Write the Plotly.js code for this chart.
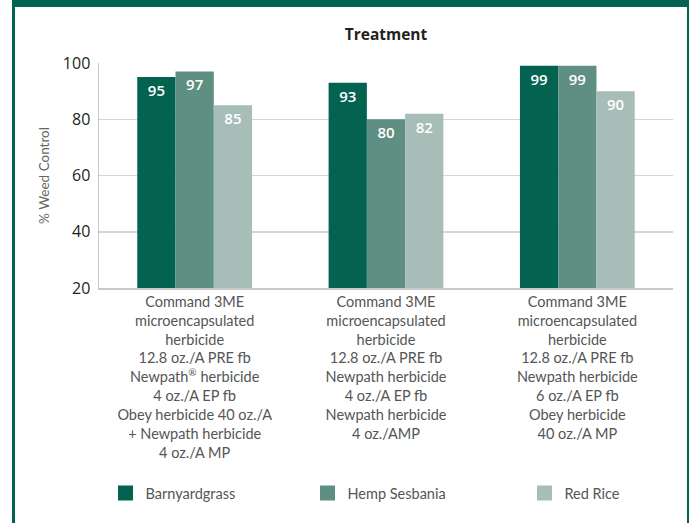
<!DOCTYPE html>
<html>
<head>
<meta charset="utf-8">
<script src="https://cdn.plot.ly/plotly-3.0.1.min.js"></script>
<style>
  html, body { margin: 0; padding: 0; background: #fff; }
  #wrap { position: relative; width: 689px; height: 523px; overflow: hidden; }
  #chart { position: absolute; left: 0; top: 0; width: 689px; height: 523px; }
  #frame { position: absolute; left: 12px; top: 0; width: 672px; height: 530px;
           border-top: 7px solid #046350; border-left: 3px solid #046350; border-right: 2px solid #046350;
           pointer-events: none; }
</style>
</head>
<body>
<div id="wrap">
  <div id="chart"></div>
  <div id="frame"></div>
</div>
<script>
const categories = [
  "Command 3ME<br>microencapsulated<br>herbicide<br>12.8 oz./A PRE fb<br>Newpath<sup>®</sup> herbicide<br>4 oz./A EP fb<br>Obey herbicide 40 oz./A<br>+ Newpath herbicide<br>4 oz./A MP",
  "Command 3ME<br>microencapsulated<br>herbicide<br>12.8 oz./A PRE fb<br>Newpath herbicide<br>4 oz./A EP fb<br>Newpath herbicide<br>4 oz./AMP",
  "Command 3ME<br>microencapsulated<br>herbicide<br>12.8 oz./A PRE fb<br>Newpath herbicide<br>6 oz./A EP fb<br>Obey herbicide<br>40 oz./A MP"
];
const seriesNames = ["Barnyardgrass", "Hemp Sesbania", "Red Rice"];
const barnyardgrass = [95, 93, 99];
const hempSesbania = [97, 80, 99];
const redRice = [85, 82, 90];
const yTicks = [20, 40, 60, 80, 100];

const colors = ["#046350", "#5f8f82", "#a7bdb7"];
const seriesValues = [barnyardgrass, hempSesbania, redRice];
const legendIds = ["legend", "legend2", "legend3"];
const legendPx = [105.5, 307.5, 524.5];

const W = 689, H = 523;
const plotL = 99, plotR = 673, plotT = 63, plotB = 288;
const lightFont = "Lato, sans-serif";

const barTraces = seriesValues.map((vals, i) => ({
  type: "bar",
  name: seriesNames[i],
  x: categories,
  y: vals,
  base: 0,
  marker: { color: colors[i], line: { width: 0 } },
  text: vals.map(String),
  textposition: "inside",
  insidetextanchor: "end",
  textangle: 0,
  textfont: { family: "Open Sans, sans-serif", size: 15, color: "#ffffff", weight: 600 },
  hoverinfo: "none",
  showlegend: false
}));

const legendTraces = seriesNames.map((name, i) => ({
  type: "scatter",
  mode: "markers",
  name: name,
  x: [null], y: [null],
  marker: { symbol: "square", size: 15, color: colors[i], line: { width: 0 } },
  legend: legendIds[i],
  showlegend: true,
  hoverinfo: "none"
}));

function legendSpec(px) {
  return {
    orientation: "h",
    xref: "container", yref: "container",
    x: px / W, xanchor: "left",
    y: 1 - 493 / H, yanchor: "middle",
    font: { family: lightFont, size: 14.5, color: "#555555" },
    bgcolor: "rgba(0,0,0,0)",
    borderwidth: 0,
    itemclick: false
  };
}

const layout = {
  width: W, height: H,
  margin: { l: plotL, r: W - plotR, t: plotT, b: H - plotB, pad: 0 },
  paper_bgcolor: "#ffffff",
  plot_bgcolor: "#ffffff",
  font: { family: lightFont, color: "#555555" },
  barmode: "group",
  bargap: 0.4,
  bargroupgap: 0,
  title: {
    text: "<b>Treatment</b>",
    font: { family: "Open Sans, sans-serif", size: 15.5, color: "#231f20" },
    x: 0.5, xref: "paper", xanchor: "center",
    y: 1 - 35 / H, yref: "container", yanchor: "middle"
  },
  xaxis: {
    type: "category",
    showline: true, linecolor: "#c8c8c8", linewidth: 1.5,
    showgrid: false, ticks: "",
    ticklabelstandoff: 0,
    tickfont: { family: lightFont, size: 14.5, color: "#555555" },
    automargin: false
  },
  yaxis: {
    range: [20, 100],
    tickvals: yTicks,
    ticktext: yTicks.map(String),
    showline: true, linecolor: "#c8c8c8", linewidth: 1.5,
    showgrid: true, gridcolor: "#d6d6d6", gridwidth: 1.5,
    zeroline: false, ticks: "",
    ticklabelstandoff: 4,
    tickfont: { family: "Open Sans, sans-serif", size: 16, color: "#231f20" },
    title: { text: "% Weed Control", font: { family: lightFont, size: 13.5, color: "#666666" }, standoff: 10 },
    automargin: false
  },
  showlegend: true,
  legend: legendSpec(legendPx[0]),
  legend2: legendSpec(legendPx[1]),
  legend3: legendSpec(legendPx[2])
};

Plotly.newPlot("chart", barTraces.concat(legendTraces), layout, { staticPlot: true, displayModeBar: false });
</script>
</body>
</html>
